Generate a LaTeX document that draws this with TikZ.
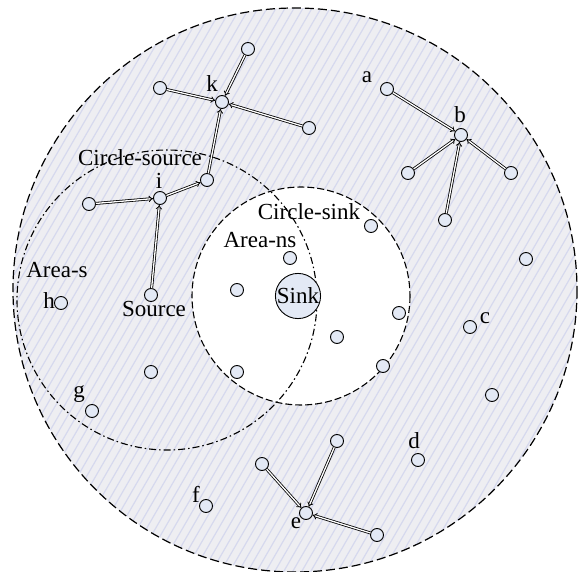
\documentclass[tikz,border=0pt]{standalone}
\usepackage{fontspec}
\setmainfont{Liberation Serif}
\usetikzlibrary{arrows.meta}
\definecolor{bgfill}{HTML}{EEEEF2}
\definecolor{hatchc}{HTML}{D6D9EE}
\definecolor{nodefill}{HTML}{E3E9F5}
\begin{document}
\begin{tikzpicture}[x=1pt,y=-1pt,
  sn/.style={circle,draw,line width=0.9pt,fill=nodefill,minimum size=13pt,inner sep=0pt},
  lbl/.style={font=\fontsize{23}{25}\selectfont, inner sep=0pt},
  link/.style={double=white, double distance=1.3pt, line width=0.8pt, -{Implies}},
  outerc/.style={line width=1.2pt, dash pattern=on 9pt off 4pt},
  sinkc/.style={line width=1.1pt, dash pattern=on 7pt off 3pt},
  sourcec/.style={line width=1.1pt, dash pattern=on 7pt off 3pt on 1.5pt off 3pt}]
\useasboundingbox (0,0) rectangle (581,572);
\fill[white] (0,0) rectangle (581,572);
% outer area
\fill[bgfill] (295,290) circle (282);
\begin{scope}
  \clip (295,290) circle (282);
  \foreach \x in {-420,-411,...,900}
    \draw[hatchc, line width=1.2pt] (\x,590) -- ++(350,-606);
\end{scope}
\fill[white] (301,296) circle (109);
% region boundaries
\draw[outerc] (295,290) circle (282);
\draw[sinkc] (301,296) circle (109);
\draw[sourcec] (167,300) circle (150);
% nodes
\node[sn] (k) at (222,102) {};
\node[sn] (kt) at (248,49) {};
\node[sn] (kl) at (160,88) {};
\node[sn] (kr) at (309,128) {};
\node[sn] (ik) at (207,180) {};
\node[sn] (i) at (160,198) {};
\node[sn] (il) at (89,204) {};
\node[sn] (src) at (151,295) {};
\node[sn] (a) at (387,89) {};
\node[sn] (b) at (461,135) {};
\node[sn] (bl) at (408,173) {};
\node[sn] (bb) at (445,220) {};
\node[sn] (br) at (511,173) {};
\node[sn] (n1) at (526,259) {};
\node[sn] (c) at (470,327) {};
\node[sn] (n2) at (492,395) {};
\node[sn] (d) at (418,460) {};
\node[sn] (e) at (306,513) {};
\node[sn] (et) at (337,441) {};
\node[sn] (el) at (262,464) {};
\node[sn] (ebr) at (377,535) {};
\node[sn] (f) at (206,506) {};
\node[sn] (g) at (92,411) {};
\node[sn] (n3) at (151,372) {};
\node[sn] (h) at (61,303) {};
\node[sn] (s1) at (371,226) {};
\node[sn] (s2) at (290,258) {};
\node[sn] (s3) at (237,290) {};
\node[sn] (s4) at (399,313) {};
\node[sn] (s5) at (337,337) {};
\node[sn] (s6) at (383,366) {};
\node[sn] (s7) at (237,372) {};
\node[sn, minimum size=44pt, font=\fontsize{23}{25}\selectfont] (sink) at (298,296) {Sink};
% links
\draw[link] (kt) -- (k);
\draw[link] (kl) -- (k);
\draw[link] (kr) -- (k);
\draw[link] (ik) -- (k);
\draw[link] (i) -- (ik);
\draw[link] (il) -- (i);
\draw[link] (src) -- (i);
\draw[link] (a) -- (b);
\draw[link] (bl) -- (b);
\draw[link] (bb) -- (b);
\draw[link] (br) -- (b);
\draw[link] (et) -- (e);
\draw[link] (el) -- (e);
\draw[link] (ebr) -- (e);
% labels
\node[lbl] (lk) at (212,84) {k};
\node[lbl] (la) at (367,77) {a};
\node[lbl] (lb) at (460,115) {b};
\node[lbl] (lcs) at (140,158) {Circle-source};
\node[lbl] (li) at (159,181) {i};
\node[lbl] (lck) at (309,212) {Circle-sink};
\node[lbl] (lans) at (260,240) {Area-ns};
\node[lbl] (las) at (57,270) {Area-s};
\node[lbl] (lh) at (49,301) {h};
\node[lbl] (lsrc) at (154,309) {Source};
\node[lbl] (lc) at (485,318) {c};
\node[lbl] (lg) at (79,394) {g};
\node[lbl] (ld) at (414,441) {d};
\node[lbl] (lf) at (196,494) {f};
\node[lbl] (le) at (296,523) {e};
\end{tikzpicture}
\end{document}
